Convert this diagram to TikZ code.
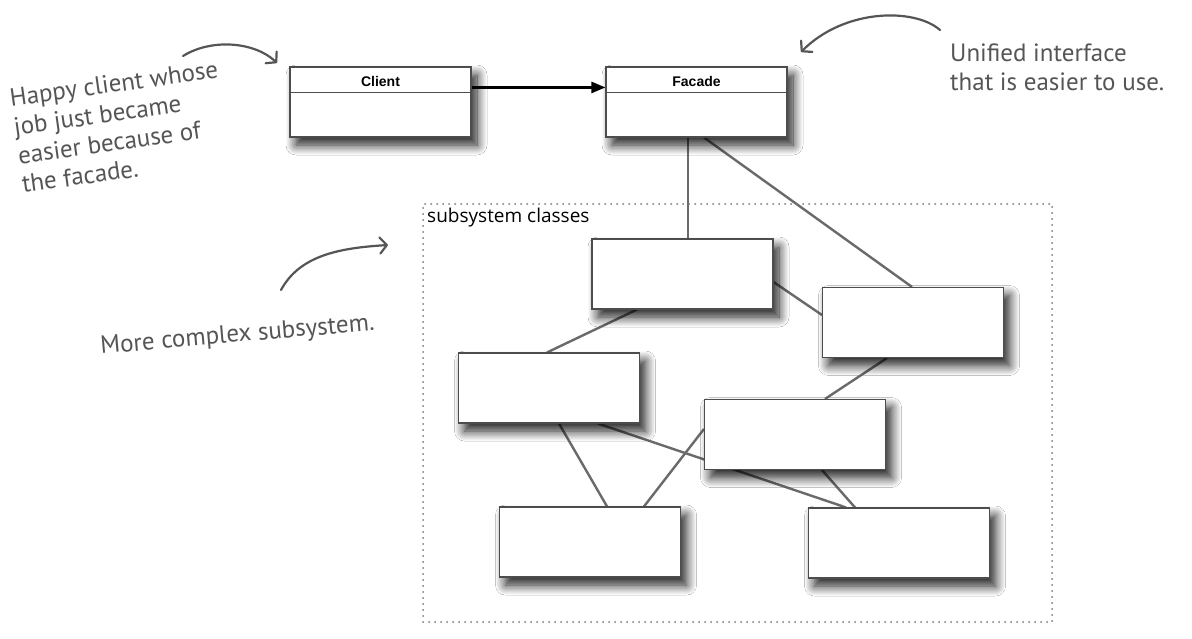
\documentclass[tikz,border=0pt]{standalone}
\usepackage{fontspec}
\setmainfont{Liberation Sans}
\newfontfamily\handfont{PT Sans}
\newfontfamily\labelfont{Open Sans}
\usetikzlibrary{arrows.meta,shadows,shadows.blur,backgrounds,calc}
\definecolor{boxgray}{HTML}{4D4D4D}
\definecolor{linegray}{HTML}{6A6A6A}
\definecolor{notegray}{HTML}{555555}
\definecolor{dotgray}{HTML}{7A7A7A}
\tikzset{
  classbox/.style={draw=boxgray, line width=1.1pt, fill=white,
    minimum width=181pt, minimum height=70pt, inner sep=0pt,
    blur shadow={shadow xshift=6pt, shadow yshift=-8pt, shadow blur radius=10pt, shadow blur steps=12, shadow opacity=90}},
  titletext/.style={font=\fontsize{14}{16}\selectfont\bfseries, text=black, inner sep=0pt},
  link/.style={draw=linegray, line width=2.4pt},
  note/.style={font=\handfont\fontsize{25}{29}\selectfont, text=notegray, inner sep=0pt, align=left, anchor=north west},
  handarrow/.style={draw=notegray, line width=2.2pt, line cap=round,
    -{Straight Barb[length=7pt,width=16pt,round]}},
  uses/.style={draw=black, line width=2.4pt, -{Triangle[length=14pt,width=11pt]}},
  groupbox/.style={draw=dotgray, line width=2pt, line cap=round, dash pattern=on 0pt off 6pt}
}
\begin{document}
\begin{tikzpicture}[x=1pt,y=-1pt]
\useasboundingbox (0,0) rectangle (1192,639);

% subsystem group
\node[groupbox, minimum width=629pt, minimum height=418pt, inner sep=0pt] (group) at (737.5,413) {};
\node[font=\labelfont\fontsize{19}{21}\selectfont, text=black, inner sep=0pt, anchor=base west] (grouplabel) at (427,223) {subsystem classes};

% class boxes
\node[classbox] (client) at (380.5,102) {};
\node[classbox] (facade) at (696.5,102) {};
\node[titletext] (clienttitle) at (380.5,81) {Client};
\node[titletext] (facadetitle) at (696.5,81) {Facade};
\draw[boxgray, line width=1.1pt] ($(client.north west)+(0,26)$) -- ($(client.north east)+(0,26)$);
\draw[boxgray, line width=1.1pt] ($(facade.north west)+(0,26)$) -- ($(facade.north east)+(0,26)$);

\node[classbox] (A) at (682.5,274) {};
\node[classbox] (B) at (913,322.5) {};
\node[classbox] (C) at (549,388) {};
\node[classbox] (D) at (795,434.5) {};
\node[classbox] (E) at (590,542) {};
\node[classbox] (F) at (899,543) {};

% white page and connectors behind the boxes
\begin{scope}[on background layer]
\fill[white] (0,0) rectangle (1192,639);
\draw[link] ($(facade.south)+(-8.5,0)$) -- ($(A.north)+(5.5,0)$);
\draw[link] ($(facade.south)+(7.5,0)$) -- ($(B.north)+(-1,0)$);
\draw[link] ($(A.east)+(0,8)$) -- ($(B.west)+(0,-7.5)$);
\draw[link] ($(A.south)+(-45.5,0)$) -- ($(C.north)+(-2,0)$);
\draw[link] ($(B.south)+(-26,0)$) -- ($(D.north)+(30,0)$);
\draw[link] ($(C.south)+(10,0)$) -- ($(E.north)+(17,0)$);
\draw[link] ($(C.south)+(49,0)$) -- ($(F.north)+(-53,0)$);
\draw[link] ($(E.north)+(54,0)$) -- ($(D.west)+(0,-5.5)$);
\draw[link] ($(D.south)+(27,0)$) -- ($(F.north)+(-44,0)$);
\end{scope}

% client uses facade
\draw[uses] ($(client.north east)+(0,21)$) -- ($(facade.north west)+(0,21)$);

% notes
\node[note, rotate=8] (n1) at (8.5,89) {Happy client whose\\job just became\\easier because of\\the facade.};
\node[note] (n2) at (950,44) {Unified interface\\that is easier to use.};
\node[note, anchor=base west, rotate=5] (n3) at (101,354) {More complex subsystem.};

% hand-drawn arrows
\coordinate (h1s) at (183,56);
\coordinate (h1e) at (277,63);
\draw[handarrow] (h1s) .. controls (212,38) and (255,42) .. (h1e);
\coordinate (h2s) at (940,30);
\coordinate (h2e) at (801,52);
\draw[handarrow] (h2s) .. controls (915,8) and (845,8) .. (h2e);
\coordinate (h3s) at (281,290);
\coordinate (h3e) at (388,245);
\draw[handarrow] (h3s) .. controls (300,255) and (340,248) .. (h3e);
\end{tikzpicture}
\end{document}
